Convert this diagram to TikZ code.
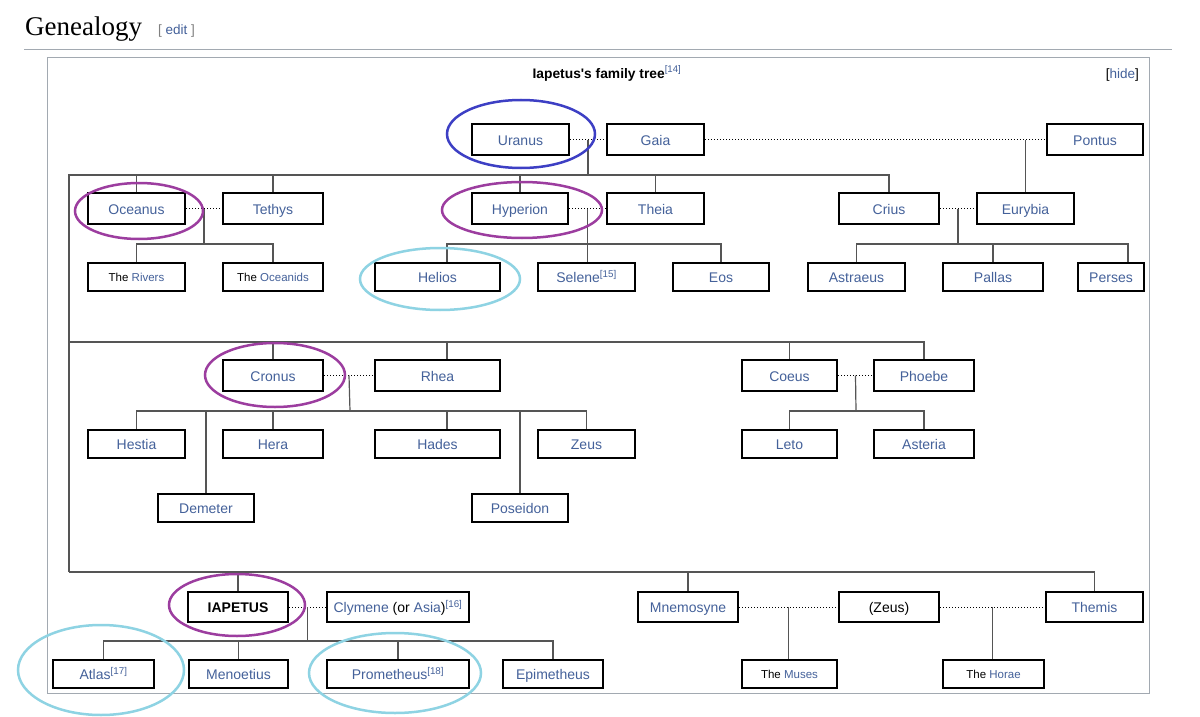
\documentclass[tikz,border=0pt]{standalone}
\usepackage{fontspec}
\setmainfont{Liberation Sans}[Ligatures=TeXOff]
\newfontfamily\headfont{Liberation Serif}
\usetikzlibrary{calc}
\definecolor{link}{HTML}{44619A}
\definecolor{tiegray}{HTML}{555555}
\definecolor{framegray}{HTML}{A2A9B1}
\definecolor{ringblue}{HTML}{3D3FC4}
\definecolor{ringpurple}{HTML}{9C3D9F}
\definecolor{ringcyan}{HTML}{8ED3E3}

\begin{document}
\begin{tikzpicture}[x=1pt,y=-1pt,
 box/.style={draw,line width=2pt,inner sep=0pt,minimum height=31pt,text=link,
   text height=11pt,text depth=0pt,font=\fontsize{14}{16}\selectfont},
 kid/.style={box,minimum height=28pt},
 small/.style={font=\fontsize{11.5}{13}\selectfont,text height=9.5pt,text depth=0pt},
 tie/.style={draw=tiegray,line width=1.2pt},
 wed/.style={dotted,line width=1pt},
 ring/.style={line width=2.5pt}]
\useasboundingbox (0,0) rectangle (1200,717);
\fill[white] (0,0) rectangle (1200,717);
% page header and frame
\node[anchor=base west,inner sep=0pt,font=\headfont\fontsize{27}{30}\selectfont] (heading) at (25,36) {Genealogy};
\node[anchor=base west,inner sep=0pt,font=\fontsize{13.5}{15}\selectfont,text=gray] (edit) at (158,35) {[ \textcolor{link}{edit} ]};
\draw[framegray] (24,49) -- (1172,49);
\draw[framegray] (47.5,57.5) rectangle (1149.5,693.5);
\node[anchor=base,inner sep=0pt,font=\bfseries\fontsize{13.8}{16}\selectfont] (title) at (607,78)
  {Iapetus's family tree\textcolor{link}{\mdseries\textsuperscript{[14]}}};
\node[anchor=base east,inner sep=0pt,font=\fontsize{13.5}{16}\selectfont] (hide) at (1139,78) {[\textcolor{link}{hide}]};

% first generation
\node[box,minimum width=97pt] (uranus) at (520.5,139.5) {Uranus};
\node[box,minimum width=97pt] (gaia) at (655.5,139.5) {Gaia};
\node[box,minimum width=96pt] (pontus) at (1095,139.5) {Pontus};

% titans
\node[box,minimum width=97pt] (oceanus) at (136.5,208.5) {Oceanus};
\node[box,minimum width=100pt] (tethys) at (273,208.5) {Tethys};
\node[box,minimum width=96pt] (hyperion) at (520,208.5) {Hyperion};
\node[box,minimum width=97pt] (theia) at (655.5,208.5) {Theia};
\node[box,minimum width=100pt] (crius) at (889,208.5) {Crius};
\node[box,minimum width=97pt] (eurybia) at (1025.5,208.5) {Eurybia};
\node[kid,small,minimum width=97pt] (rivers) at (136.5,277) {\textcolor{black}{The} Rivers};
\node[kid,small,minimum width=100pt] (oceanids) at (273,277) {\textcolor{black}{The} Oceanids};
\node[kid,minimum width=125pt] (helios) at (437.5,277) {Helios};
\node[kid,minimum width=97pt] (selene) at (586.5,277) {Selene\textsuperscript{[15]}};
\node[kid,minimum width=96pt] (eos) at (721,277) {Eos};
\node[kid,minimum width=97pt] (astraeus) at (856.5,277) {Astraeus};
\node[kid,minimum width=100pt] (pallas) at (993,277) {Pallas};
\node[kid,minimum width=66pt] (perses) at (1111,277) {Perses};

\node[box,minimum width=100pt] (cronus) at (273,375.5) {Cronus};
\node[box,minimum width=125pt] (rhea) at (437.5,375.5) {Rhea};
\node[box,minimum width=95pt] (coeus) at (789.5,375.5) {Coeus};
\node[box,minimum width=100pt] (phoebe) at (924,375.5) {Phoebe};
\node[kid,minimum width=97pt] (hestia) at (136.5,444) {Hestia};
\node[kid,minimum width=100pt] (hera) at (273,444) {Hera};
\node[kid,minimum width=125pt] (hades) at (437.5,444) {Hades};
\node[kid,minimum width=97pt] (zeus) at (586.5,444) {Zeus};
\node[kid,minimum width=95pt] (leto) at (789.5,444) {Leto};
\node[kid,minimum width=100pt] (asteria) at (924,444) {Asteria};
\node[kid,minimum width=96pt] (demeter) at (206,508) {Demeter};
\node[kid,minimum width=96pt] (poseidon) at (520,507.5) {Poseidon};

\node[box,minimum width=100pt,minimum height=30pt,text=black,font=\bfseries\fontsize{14}{16}\selectfont] (iapetus) at (238,607) {IAPETUS};
\node[box,minimum width=142pt,minimum height=30pt] (clymene) at (398,607)
  {Clymene \textcolor{black}{(or} Asia\textcolor{black}{)}\textsuperscript{[16]}};
\node[box,minimum width=100pt,minimum height=30pt] (mnemosyne) at (688,607) {Mnemosyne};
\node[box,minimum width=100pt,minimum height=30pt,text=black] (zeusb) at (889,607) {(Zeus)};
\node[box,minimum width=97pt,minimum height=30pt] (themis) at (1094.5,607) {Themis};
\node[kid,minimum width=101pt] (atlas) at (103.5,674) {Atlas\textsuperscript{[17]}};
\node[kid,minimum width=99pt] (menoetius) at (238.5,674) {Menoetius};
\node[kid,minimum width=142pt] (prometheus) at (398,674) {Prometheus\textsuperscript{[18]}};
\node[kid,minimum width=100pt] (epimetheus) at (553,674) {Epimetheus};
\node[kid,small,minimum width=95pt] (muses) at (789.5,674) {\textcolor{black}{The} Muses};
\node[kid,small,minimum width=101pt] (horae) at (993.5,674) {\textcolor{black}{The} Horae};

% marriages
\foreach \a/\b in {uranus/gaia,gaia/pontus,oceanus/tethys,hyperion/theia,crius/eurybia,
  cronus/rhea,coeus/phoebe,iapetus/clymene,mnemosyne/zeusb,zeusb/themis}
  \draw[wed] (\a) -- (\b);

% descent lines
\coordinate (ug) at ($(uranus.east)!.5!(gaia.west)$);
\coordinate (row1) at (69,175);
\coordinate (row2) at (69,342);
\coordinate (row3) at (69,572);
\draw[tie] (ug) -- (ug |- row1);
\draw[tie] (row3) -- (row1) -| (crius);
\draw[tie] (row2) -| (phoebe);
\draw[tie] (row3) -| (themis);
\foreach \n in {oceanus,tethys,hyperion,theia}
  \draw[tie] (\n) -- (\n |- row1);
\foreach \n in {cronus,coeus}
  \draw[tie] (\n) -- (\n |- row2);
\draw[tie] ([xshift=9.5pt]rhea.north) -- ([xshift=9.5pt]rhea.north |- row2);
\foreach \n in {iapetus,mnemosyne}
  \draw[tie] (\n) -- (\n |- row3);
\draw[tie] (eurybia) -- (eurybia |- pontus);

\coordinate (ot) at ($(oceanus.east)!.5!(tethys.west)$);
\coordinate (otj) at (204,244);
\draw[tie] (ot) -- (otj);
\draw[tie] (rivers) |- (otj) -| (oceanids);

\coordinate (ht) at ($(hyperion.east)!.5!(theia.west)$);
\coordinate (htj) at (588,244);
\draw[tie] (ht) -- (ht |- selene.north);
\draw[tie] ([xshift=9.5pt]helios.north) |- (htj) -| (eos);

\coordinate (ce) at ($(crius.east)!.5!(eurybia.west)$);
\coordinate (cej) at (958,244);
\draw[tie] (ce) -- (cej);
\draw[tie] (astraeus) |- (cej) -| ([xshift=17pt]perses.north);
\draw[tie] (pallas) -- (pallas |- cej);

\coordinate (cr) at ($(cronus.east)!.5!(rhea.west)$);
\coordinate (crj) at (350,411);
\draw[tie] (cr) -- (crj);
\draw[tie] (hestia) |- (crj) -| (zeus);
\foreach \n in {demeter,hera,poseidon}
  \draw[tie] (\n) -- (\n |- crj);
\draw[tie] ([xshift=9.5pt]hades.north) -- ([xshift=9.5pt]hades.north |- crj);

\coordinate (cp) at ($(coeus.east)!.5!(phoebe.west)$);
\coordinate (cpj) at (856,411);
\draw[tie] (cp) -- (cpj);
\draw[tie] (leto) |- (cpj) -| (asteria);

\coordinate (ic) at ($(iapetus.east)!.5!(clymene.west)$);
\coordinate (icj) at (307.5,641);
\draw[tie] (ic) -- (icj);
\draw[tie] (atlas) |- (icj) -| (epimetheus);
\foreach \n in {menoetius,prometheus}
  \draw[tie] (\n) -- (\n |- icj);

\coordinate (mz) at ($(mnemosyne.east)!.5!(zeusb.west)$);
\coordinate (zt) at ($(zeusb.east)!.5!(themis.west)$);
\draw[tie] (mz) -- (mz |- muses.north);
\draw[tie] (zt) -- (zt |- horae.north);

% marks
\draw[ring,ringblue] (521,134) ellipse [x radius=74, y radius=34];
\draw[ring,ringpurple] (139,211) ellipse [x radius=64, y radius=28];
\draw[ring,ringpurple] (522,210) ellipse [x radius=80, y radius=28];
\draw[ring,ringpurple] (275,375) ellipse [x radius=70, y radius=32];
\draw[ring,ringpurple] (237,605) ellipse [x radius=68, y radius=31];
\draw[ring,ringcyan] (440,279) ellipse [x radius=80, y radius=31];
\draw[ring,ringcyan] (101,670) ellipse [x radius=83, y radius=45];
\draw[ring,ringcyan] (395,673) ellipse [x radius=86, y radius=40];
\end{tikzpicture}
\end{document}
